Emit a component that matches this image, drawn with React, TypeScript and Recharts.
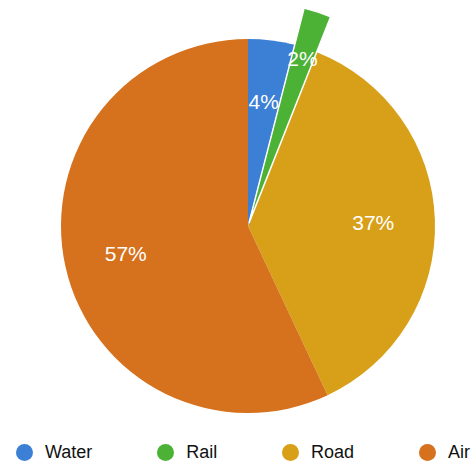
import React from "react";
import { PieChart, Pie, Cell, Legend } from "recharts";

const categories = ["Water", "Rail", "Road", "Air"];
const shares = [4, 2, 37, 57];
const colors = ["#3b80d4", "#4bb236", "#d8a019", "#d6711d"];
const explodedName = "Rail";

const data = categories.map((name, i) => ({ name, value: shares[i] }));

const RADIAN = Math.PI / 180;
const CX = 248;
const CY = 226;
const R = 187;
const R_EXPLODED = 222;
const OFFSET = 3;

const makeLabel = (ratio: number, show: (name: string) => boolean) => (props: any) => {
  const { cx, cy, midAngle, outerRadius, payload, value } = props;
  const name = payload?.name ?? props.name;
  if (!show(name)) return null;
  const r = outerRadius * ratio;
  const x = cx + r * Math.cos(-midAngle * RADIAN);
  const y = cy + r * Math.sin(-midAngle * RADIAN);
  return (
    <text
      x={x}
      y={y}
      fill="#ffffff"
      textAnchor="middle"
      dominantBaseline="central"
      fontSize={21}
      fontFamily="Liberation Sans, Arial, sans-serif"
    >
      {`${value}%`}
    </text>
  );
};

const explodedIndex = categories.indexOf(explodedName);
const total = shares.reduce((a, b) => a + b, 0);
const before = shares.slice(0, explodedIndex).reduce((a, b) => a + b, 0);
const midFrac = (before + shares[explodedIndex] / 2) / total;
const midRad = midFrac * 2 * Math.PI;
const dx = OFFSET * Math.sin(midRad);
const dy = -OFFSET * Math.cos(midRad);

const LegendContent = () => (
  <div
    style={{
      display: "flex",
      justifyContent: "space-between",
      alignItems: "center",
      paddingLeft: 16,
      paddingRight: 4,
      fontFamily: "Liberation Sans, Arial, sans-serif",
      fontSize: 18,
      color: "#111",
    }}
  >
    {categories.map((c, i) => (
      <div key={c} style={{ display: "flex", alignItems: "center" }}>
        <span
          style={{
            display: "inline-block",
            width: 17,
            height: 17,
            borderRadius: "50%",
            background: colors[i],
            marginRight: 12,
          }}
        />
        <span>{c}</span>
      </div>
    ))}
  </div>
);

export default function App() {
  return (
    <div style={{ position: "absolute", left: 0, top: 0, background: "#fff" }}>
      <PieChart width={474} height={461} margin={{ top: 0, right: 0, bottom: 0, left: 0 }}>
        <Pie
          data={data}
          dataKey="value"
          nameKey="name"
          cx={CX}
          cy={CY}
          outerRadius={R}
          startAngle={90}
          endAngle={-270}
          stroke="none"
          labelLine={false}
          label={makeLabel(0.67, (n) => n !== explodedName)}
          isAnimationActive={false}
        >
          {data.map((d, i) => (
            <Cell key={d.name} fill={d.name === explodedName ? "none" : colors[i]} stroke="none" />
          ))}
        </Pie>
        <Pie
          data={data}
          dataKey="value"
          nameKey="name"
          cx={CX + dx}
          cy={CY + dy}
          outerRadius={R_EXPLODED}
          startAngle={90}
          endAngle={-270}
          labelLine={false}
          legendType="none"
          label={makeLabel(0.78, (n) => n === explodedName)}
          isAnimationActive={false}
        >
          {data.map((d, i) => (
            <Cell
              key={d.name}
              fill={d.name === explodedName ? colors[i] : "none"}
              stroke={d.name === explodedName ? "#ffffff" : "none"}
              strokeWidth={1.5}
            />
          ))}
        </Pie>
        <Legend
          content={<LegendContent />}
          wrapperStyle={{ left: 0, top: 442, width: 474 }}
        />
      </PieChart>
    </div>
  );
}
